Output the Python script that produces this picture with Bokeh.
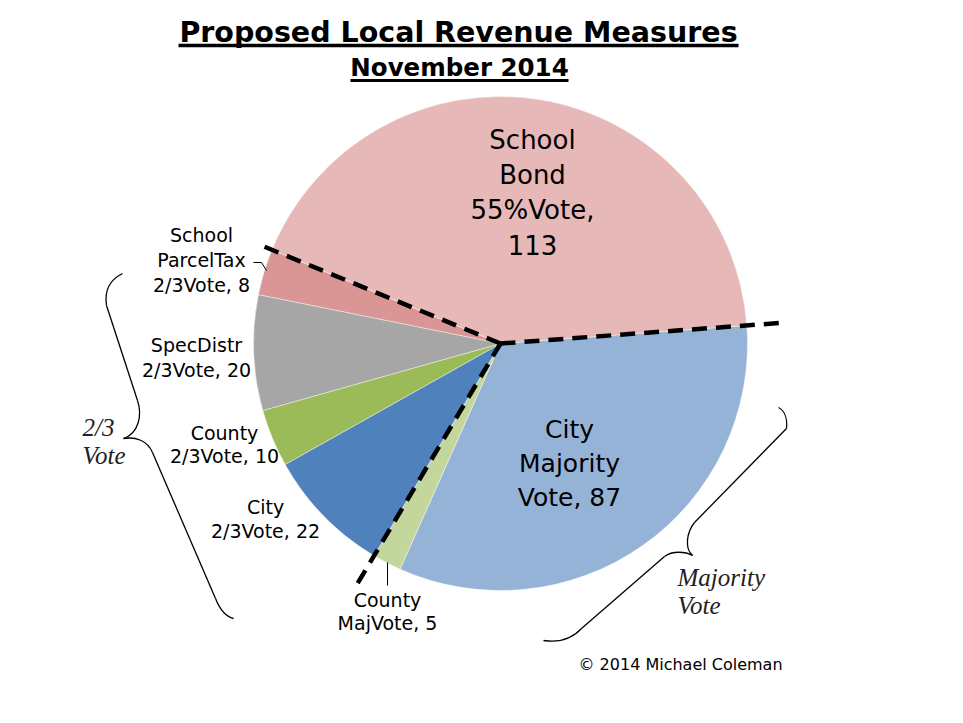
import math
from bokeh.plotting import figure
from bokeh.models import Range1d, ColumnDataSource
from bokeh.embed import file_html
from bokeh.resources import INLINE
from bokeh.core.properties import value

# ---------------- data ----------------
categories = ["City Majority", "County Majority", "City 2/3", "County 2/3",
              "SpecDistr 2/3", "School ParcelTax 2/3", "School Bond 55%"]
votes = [87, 5, 22, 10, 20, 8, 113]
label_heads = ["City\nMajority\nVote, ", "County\nMajVote, ", "City\n2/3Vote, ",
               "County\n2/3Vote, ", "SpecDistr\n2/3Vote, ", "School\nParcelTax\n2/3Vote, ",
               "School\nBond\n55%Vote,\n"]
colors = ["#95B3D7", "#C3D69B", "#4F81BD", "#9BBB59", "#A6A6A6", "#D99694", "#E6B9B8"]
title = "Proposed Local Revenue Measures"
subtitle = "November 2014"
group_labels = ["2/3\nVote", "Majority\nVote"]
credit = "\u00a9 2014 Michael Coleman"

# ---------------- layout ----------------
W, H = 945, 705
FONT = "DejaVu Sans"
SERIF = "Liberation Serif"
CX, CY, R = 500, -343, 247
START_DEG = 4.2
TXT = 8  # baseline correction for text glyphs


def ty(baseline):
    return -(baseline - TXT)


p = figure(width=W, height=H, x_range=Range1d(0, W), y_range=Range1d(-H, 0),
           output_backend="svg", toolbar_location=None,
           x_axis_location=None, y_axis_location=None, min_border=0)
p.grid.visible = False
p.outline_line_color = None
p.background_fill_color = "white"
p.border_fill_color = "white"

# ---------------- pie ----------------
total = float(sum(votes))
starts, ends, bounds = [], [], []
a = START_DEG
for v in votes:
    b = a - v / total * 360.0
    bounds.append(a)
    starts.append(math.radians(b))
    ends.append(math.radians(a))
    a = b
src = ColumnDataSource(dict(cat=categories, v=votes, s=starts, e=ends, c=colors))
p.wedge(x=CX, y=CY, radius=R, start_angle="s", end_angle="e", fill_color="c",
        line_color="white", line_width=0.4, source=src)

# dashed separators at group boundaries (computed from slice boundaries)
sep = [(0, 283), (2, 279), (6, 259)]  # (boundary index, extent)
x1s, y1s = [], []
for idx, ext in sep:
    ang = math.radians(bounds[idx])
    x1s.append(CX + ext * math.cos(ang))
    y1s.append(CY + ext * math.sin(ang))
p.segment(x0=[CX] * len(sep), y0=[CY] * len(sep), x1=x1s, y1=y1s,
          line_color="black", line_width=4.5, line_dash="15 9")

# ---------------- slice labels ----------------
label_pos = [(569, 437, 34, 25), (387, 607, 23, 19), (265, 514, 24, 19),
             (224, 440, 23, 19), (196, 352, 25, 19), (201, 242, 25, 19),
             (532, 147, 35, 26)]
groups = {}
for head, v, (lx, ly, lh, fs) in zip(label_heads, votes, label_pos):
    lines = (head + str(v)).split("\n")
    for j, ln in enumerate(lines):
        g = groups.setdefault(fs, dict(x=[], y=[], t=[]))
        g["x"].append(lx)
        g["y"].append(ty(ly + j * lh))
        g["t"].append(ln)
for fs, g in groups.items():
    p.text(x=g["x"], y=g["y"], text=g["t"], text_font=value(FONT),
           text_font_size=f"{fs}px", text_align="center", text_baseline="alphabetic",
           text_color="black")

# leader lines
p.line(x=[387, 387], y=[-562, -585], line_color="black", line_width=1)
p.line(x=[253, 261, 266], y=[-262, -262, -270], line_color="black", line_width=1)

# ---------------- titles ----------------
p.text(x=[458], y=[ty(40)], text=[title], text_font=value(FONT), text_font_size="28.5px",
       text_font_style="bold", text_align="center", text_baseline="alphabetic")
p.segment(x0=[178], y0=[-45], x1=[738], y1=[-45], line_color="black", line_width=3.5)
p.text(x=[459], y=[ty(75)], text=[subtitle], text_font=value(FONT), text_font_size="24.5px",
       text_font_style="bold", text_align="center", text_baseline="alphabetic")
p.segment(x0=[350], y0=[-80], x1=[568], y1=[-80], line_color="black", line_width=3)

# ---------------- braces ----------------
bz = dict(
    x0=[122, 137, 123, 215, 778, 694, 692, 581],
    y0=[-273, -400, -438, -598, -407, -522, -555, -628],
    x1=[106, 123, 152, 233, 786, 692, 664, 543],
    y1=[-305, -438, -452, -618, -428, -555, -556, -640],
    cx0=[108, 142, 135, 219, 784, 686, 685, 570],
    cy0=[-280, -415, -436, -608, -410, -532, -551, -640],
    cx1=[104, 138, 147, 225, 787, 684, 672, 555],
    cy1=[-292, -433, -440, -616, -418, -548, -550, -642],
)
p.bezier(source=ColumnDataSource(bz), x0="x0", y0="y0", x1="x1", y1="y1",
         cx0="cx0", cy0="cy0", cx1="cx1", cy1="cy1", line_color="black", line_width=1.3)
p.segment(x0=[106, 152, 786, 664], y0=[-305, -452, -428, -556],
          x1=[137, 215, 694, 581], y1=[-400, -598, -522, -628],
          line_color="black", line_width=1.3)

# group labels
gpos = [(82, 435, 28), (677, 585, 28)]
gx, gy, gt = [], [], []
for lab, (gx0, gy0, glh) in zip(group_labels, gpos):
    for j, ln in enumerate(lab.split("\n")):
        gx.append(gx0)
        gy.append(ty(gy0 + j * glh))
        gt.append(ln)
p.text(x=gx, y=gy, text=gt, text_font=value(SERIF), text_font_size="25px",
       text_font_style="italic", text_align="left", text_baseline="alphabetic",
       text_color="#222222")

# credit
p.text(x=[578], y=[ty(672)], text=[credit], text_font=value(FONT), text_font_size="16px",
       text_align="left", text_baseline="alphabetic")

open("out.html", "w").write(file_html(p, INLINE))
